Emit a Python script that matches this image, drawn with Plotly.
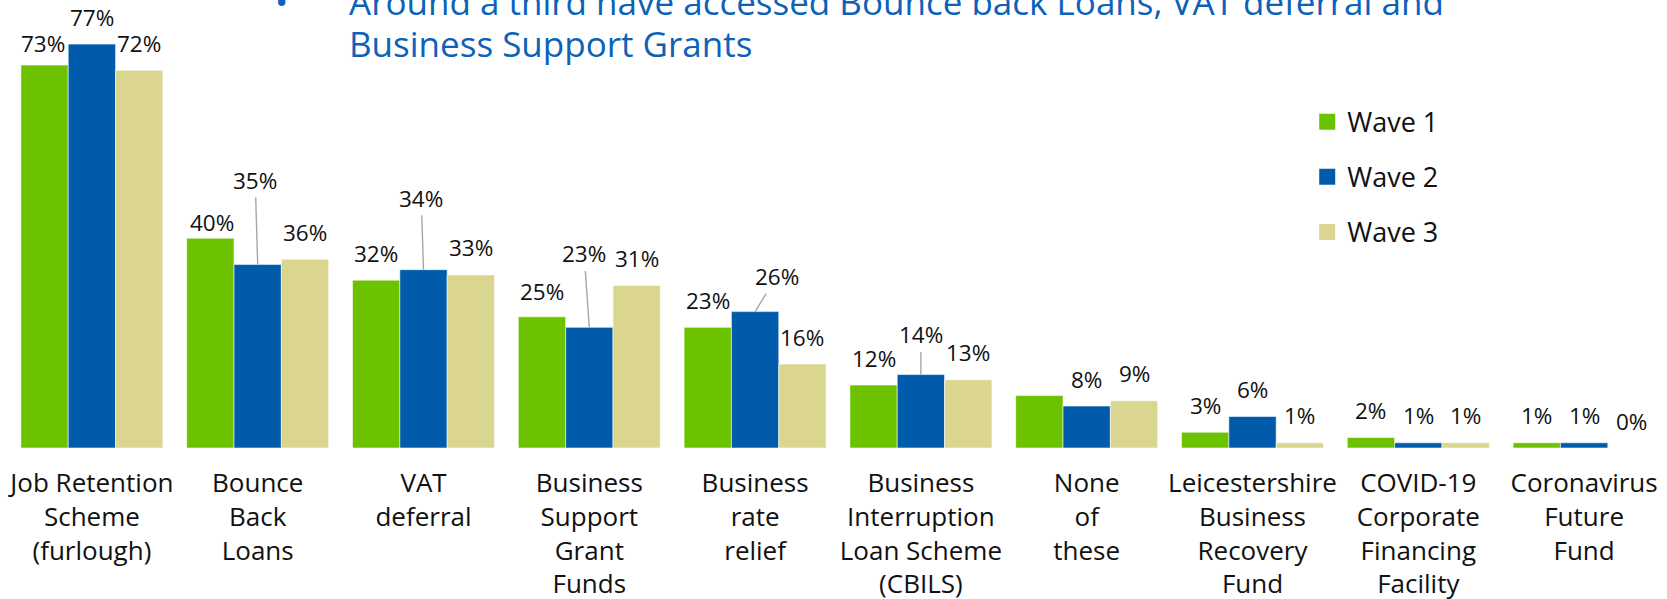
import plotly.graph_objects as go

# Survey: share of businesses that accessed each support scheme, by wave
categories = [
    "Job Retention<br>Scheme<br>(furlough)",
    "Bounce<br>Back<br>Loans",
    "VAT<br>deferral",
    "Business<br>Support<br>Grant<br>Funds",
    "Business<br>rate<br>relief",
    "Business<br>Interruption<br>Loan Scheme<br>(CBILS)",
    "None<br>of<br>these",
    "Leicestershire<br>Business<br>Recovery<br>Fund",
    "COVID-19<br>Corporate<br>Financing<br>Facility",
    "Coronavirus<br>Future<br>Fund",
]
series_names = ["Wave 1", "Wave 2", "Wave 3"]
wave1 = [73, 40, 32, 25, 23, 12, 10, 3, 2, 1]
wave2 = [77, 35, 34, 23, 26, 14, 8, 6, 1, 1]
wave3 = [72, 36, 33, 31, 16, 13, 9, 1, 1, 0]
title_lines = [
    "Around a third have accessed Bounce back Loans, VAT deferral and",
    "Business Support Grants",
]

# ---- styling -------------------------------------------------------------
FONT = "Open Sans"
colors = ["#6DC200", "#005CAB", "#DBD68F"]
title_color = "#0C62B8"
W, H = 1667, 599
M = dict(l=9, r=0, t=0, b=151)
BARGAP = 0.1435
Y_MAX = 85.41
LABEL_SIZE = 22.5

# label placement: (series, category) -> (dx px, rise px above bar top)
label_nudge = {(0, 0): (-1.5, 22), (0, 1): (2, 16), (0, 3): (0, 25)}
# labels pulled away from their bar with a leader line: (ax, ay) in px
leader = {(1, 1): (-2.5, -84), (1, 2): (-2.3, -71.4), (1, 3): (-5.2, -73.4),
          (1, 4): (21.5, -35), (1, 5): (0, -39.6)}
unlabelled = {(0, 6)}

fig = go.Figure()
all_values = [wave1, wave2, wave3]
for s, (name, vals) in enumerate(zip(series_names, all_values)):
    fig.add_trace(go.Bar(
        x=categories, y=vals, name=name, legendgroup=name, showlegend=False,
        marker=dict(color=colors[s], line=dict(color="rgba(255,255,255,0.55)", width=1)),
        hoverinfo="x+y",
    ))
    # legend swatch
    fig.add_trace(go.Scatter(
        x=[None], y=[None], mode="markers", name=name, legendgroup=name,
        marker=dict(symbol="square", size=18, color=colors[s]),
    ))

annotations = []
bar_w = (1 - BARGAP) / 3
for s, vals in enumerate(all_values):
    for i, v in enumerate(vals):
        if (s, i) in unlabelled:
            continue
        xc = i + (s - 1) * bar_w
        text = f"{v}%"
        if (s, i) in leader:
            ax, ay = leader[(s, i)]
            annotations.append(dict(
                x=xc, y=v, xref="x", yref="y", text=text, showarrow=True,
                arrowhead=0, arrowwidth=1.4, arrowcolor="#A6A6A6",
                ax=ax, ay=ay, standoff=0,
                font=dict(family=FONT, size=LABEL_SIZE, color="#111111"),
            ))
        else:
            dx, rise = label_nudge.get((s, i), (0, 27))
            annotations.append(dict(
                x=xc, y=v, xref="x", yref="y", text=text, showarrow=False,
                xanchor="center", yanchor="middle", xshift=dx, yshift=rise,
                font=dict(family=FONT, size=LABEL_SIZE, color="#111111"),
            ))

# headline bullet text at the top of the page
annotations.append(dict(
    x=0, y=1, xref="paper", yref="paper", text="\u2022", showarrow=False,
    xanchor="center", yanchor="middle", xshift=281 - M["l"], yshift=-1.4,
    font=dict(family=FONT, size=35, color=title_color),
))
for k, (line, xs, ys) in enumerate(zip(title_lines, [347, 347], [-1.4, -43.7])):
    annotations.append(dict(
        x=0, y=1, xref="paper", yref="paper", text=line, showarrow=False,
        xanchor="left", yanchor="middle", xshift=xs - M["l"], yshift=ys,
        font=dict(family=FONT, size=35, color=title_color),
    ))

fig.update_layout(
    width=W, height=H, margin=M,
    paper_bgcolor="white", plot_bgcolor="white",
    barmode="group", bargap=BARGAP, bargroupgap=0,
    font=dict(family=FONT, color="#111111"),
    xaxis=dict(showgrid=False, zeroline=False, showline=False, ticks="",
               tickangle=0, ticklabelstandoff=17, automargin=False,
               tickfont=dict(family=FONT, size=26, color="#111111")),
    yaxis=dict(range=[0, Y_MAX], visible=False, showgrid=False, zeroline=False,
               automargin=False),
    legend=dict(x=0.783, y=0.782, xanchor="left", yanchor="top",
                font=dict(family=FONT, size=27, color="#111111"),
                tracegroupgap=17, traceorder="grouped",
                bgcolor="rgba(0,0,0,0)"),
    annotations=annotations,
)

fig.write_html("out.html")
